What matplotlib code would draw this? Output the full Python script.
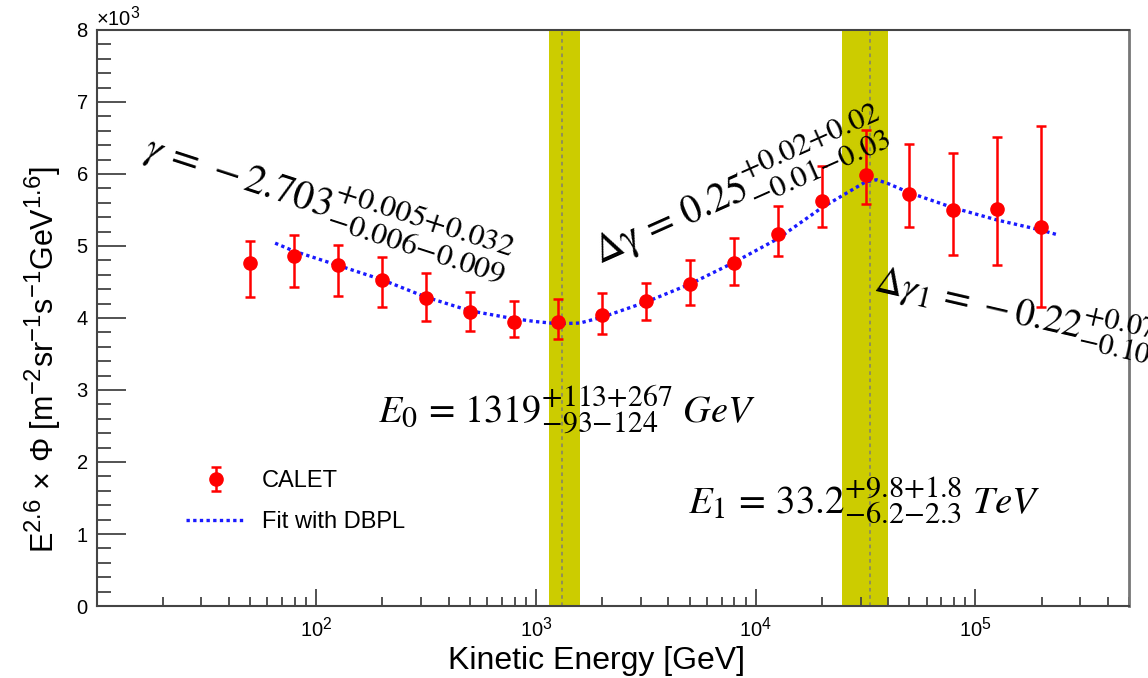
import numpy as np
import matplotlib
matplotlib.use("Agg")
import matplotlib.pyplot as plt
import matplotlib._mathtext as _mt
from matplotlib.ticker import ScalarFormatter, LogLocator, FixedLocator, MultipleLocator

_mt.SHRINK_FACTOR = 0.78

plt.rcParams['font.family'] = ['Liberation Sans', 'DejaVu Sans']
plt.rcParams['mathtext.fontset'] = 'custom'
plt.rcParams['mathtext.rm'] = 'Liberation Sans'
plt.rcParams['mathtext.it'] = 'Liberation Sans:italic'

# ---------------- data ----------------
energy = [50, 79, 126, 200, 316, 501, 794, 1259, 1995, 3162, 5012, 7943,
          12589, 19953, 31623, 50119, 79433, 125893, 199526]
flux = [4770, 4860, 4730, 4530, 4280, 4080, 3950, 3940, 4040, 4230, 4470, 4770,
        5160, 5630, 5990, 5720, 5500, 5510, 5260]
flux_hi = [5070, 5150, 5010, 4850, 4620, 4360, 4240, 4260, 4350, 4480, 4800, 5110,
           5560, 6110, 6610, 6410, 6290, 6510, 6660]
flux_lo = [4290, 4430, 4300, 4150, 3960, 3820, 3730, 3710, 3780, 3970, 4180, 4460,
           4860, 5270, 5580, 5260, 4880, 4740, 4150]

fit_energy = [65, 79, 126, 200, 316, 501, 794, 1000, 1259, 1585, 1995, 3162, 5012,
              7943, 12589, 19953, 25119, 31623, 35481, 39811, 50119, 79433,
              125893, 199526, 240000]
fit_flux = [5040, 4930, 4730, 4530, 4290, 4100, 3990, 3950, 3920, 3930, 4010, 4220,
            4470, 4770, 5100, 5530, 5710, 5890, 5920, 5870, 5740, 5530, 5360, 5220, 5150]

E0 = 1319
E0_band = [1150, 1590]
E1 = 33200
E1_band = [24800, 40200]

W, H = 1148, 678
fig = plt.figure(figsize=(W / 100, H / 100), dpi=100)
ax = fig.add_axes([96.5 / W, 1 - 606 / H, (1129 - 96.5) / W, (606 - 30) / H])

band_color = '#cccc00'
ax.axvspan(E0_band[0], E0_band[1], color=band_color, lw=0, zorder=1)
ax.axvspan(E1_band[0], E1_band[1], color=band_color, lw=0, zorder=1)
ax.axvline(E0, color='#8a8a60', ls=(0, (2, 2)), lw=1.3, zorder=2)
ax.axvline(E1, color='#8a8a60', ls=(0, (2, 2)), lw=1.3, zorder=2)

flux_a = np.array(flux)
yerr = [flux_a - np.array(flux_lo), np.array(flux_hi) - flux_a]
eb = ax.errorbar(energy, flux, yerr=yerr, fmt='o', color='#ff0000', ms=9.5,
                 elinewidth=1.8, capsize=3.5, capthick=1.8, zorder=4, label='CALET')
fl, = ax.plot(fit_energy, fit_flux, color='#1a1aff', lw=2.4, ls=(0, (1.0, 1.0)),
              zorder=3, label='Fit with DBPL')

ax.set_xscale('log')
ax.set_xlim(10, 5e5)
ax.set_ylim(0, 8000)
ax.xaxis.set_major_locator(FixedLocator([1e2, 1e3, 1e4, 1e5]))
ax.xaxis.set_minor_locator(LogLocator(base=10, subs=np.arange(2, 10), numticks=20))
ax.yaxis.set_major_locator(MultipleLocator(1000))
ax.yaxis.set_minor_locator(MultipleLocator(200))
sf = ScalarFormatter(useMathText=True)
sf.set_powerlimits((3, 3))
ax.yaxis.set_major_formatter(sf)

ax.tick_params(axis='both', which='both', direction='in', top=False, right=False,
               color='#444444', labelsize=14.5, width=1.3)
ax.tick_params(axis='y', which='major', length=21, pad=6)
ax.tick_params(axis='y', which='minor', length=10)
ax.tick_params(axis='x', which='major', length=12, pad=7)
ax.tick_params(axis='x', which='minor', length=6.5)
ax.yaxis.get_offset_text().set_fontsize(14.5)
for s in ax.spines.values():
    s.set_color('#444444')
    s.set_linewidth(1.5)
ax.spines['right'].set_color('#777777')
ax.spines['right'].set_linewidth(2)

ax.set_xlabel('Kinetic Energy [GeV]', fontsize=23, ha='right')
ax.xaxis.set_label_coords((745 - 96.5) / (1129 - 96.5), -0.07)
ax.set_ylabel(r'$\mathregular{E^{2.6}\/\times\/\Phi\/\/[m^{-2}sr^{-1}s^{-1}GeV^{1.6}]}$',
              fontsize=22)
ax.yaxis.set_label_coords(-0.032, (606 - 360) / 576)

leg = ax.legend(handles=[eb, fl], loc='upper left', frameon=False, fontsize=17,
                bbox_to_anchor=(186 / W, 1 - 470 / H), bbox_transform=fig.transFigure,
                borderaxespad=0, borderpad=0, handlelength=2.5, handletextpad=0.7,
                labelspacing=0.8)

def P(x, y):
    return (x / W, 1 - y / H)

tk = dict(transform=fig.transFigure, ha='left', va='baseline', rotation_mode='anchor',
          math_fontfamily='stix', zorder=10)
fig.text(*P(142, 157), r'$\gamma\,=\,-2.703^{+0.005{+}0.032}_{-0.006{-}0.009}$',
         rotation=-18, fontsize=29, **tk)
fig.text(*P(600, 264), r'$\Delta\mathrm{\gamma}\,=\,0.25^{+0.02{+}0.02}_{-0.01{-}0.03}$',
         rotation=24, fontsize=28.5, **tk)
fig.text(*P(873, 290), r'$\Delta\gamma_1\,=\,-0.22^{+0.07{+}0.03}_{-0.10{-}0.20}$',
         rotation=-13, fontsize=27.5, **tk)
fig.text(*P(378, 423), r'$E_0\,=\,1319^{+113{+}267}_{-93{-}124}\ GeV$', fontsize=27.5, **tk)
fig.text(*P(688, 513), r'$E_1\,=\,33.2^{+9.8{+}1.8}_{-6.2{-}2.3}\ TeV$', fontsize=28, **tk)

fig.savefig('out.png', dpi=100)
